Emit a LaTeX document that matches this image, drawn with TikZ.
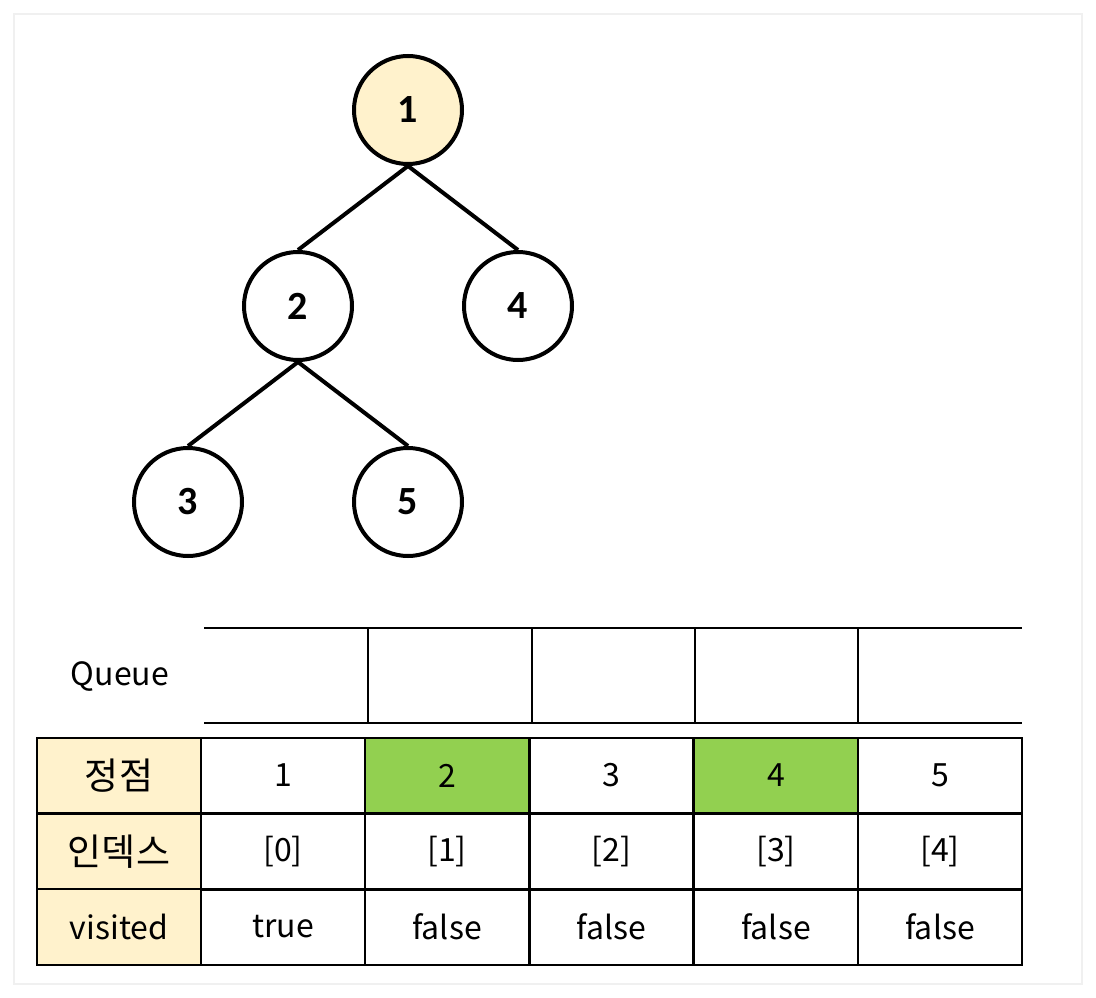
\documentclass[tikz,border=0pt]{standalone}
\usepackage{fontspec}
\setmainfont{Noto Sans CJK KR}
\newfontfamily\numfont{Carlito}
\usepackage{tikz}
\usetikzlibrary{positioning}

\definecolor{softyellow}{HTML}{FFF2CC}
\definecolor{visitgreen}{HTML}{92D050}

\tikzset{
  vertex/.style={circle,draw=black,line width=4pt,minimum size=108pt,inner sep=0pt,
    font=\numfont\bfseries\fontsize{40}{46}\selectfont},
  edge/.style={line width=4pt},
  cell/.style={draw=black,line width=2.4pt,minimum width=164pt,minimum height=75.6pt,
    inner sep=0pt,font=\fontsize{32}{38}\selectfont},
  head/.style={cell,fill=softyellow},
  seen/.style={cell,fill=visitgreen},
  hangul/.style={font=\fontsize{37}{42}\selectfont}
}

\begin{document}
\begin{tikzpicture}[x=1pt,y=-1pt]
\useasboundingbox (0,0) rectangle (1096,998);
\fill[white] (0,0) rectangle (1096,998);
\draw[black!6,line width=4pt] (15,15) rectangle (1081,983);
\fill[white] (15,15) rectangle (1081,983);

% tree
\node[vertex,fill=softyellow] (v1) at (408,110) {1};
\node[vertex] (v2) at (298,306) {2};
\node[vertex] (v4) at (518,306) {4};
\node[vertex] (v3) at (188,502) {3};
\node[vertex] (v5) at (408,502) {5};

\draw[edge] (v1.south) -- (v2.north);
\draw[edge] (v1.south) -- (v4.north);
\draw[edge] (v2.south) -- (v3.north);
\draw[edge] (v2.south) -- (v5.north);

% queue
\coordinate (qa) at (204,628);
\coordinate (qb) at (1022,628);
\coordinate (qc) at (204,723);
\coordinate (qd) at (1022,723);
\node[font=\fontsize{32}{38}\selectfont] (queue) at (120,677) {Queue};
\draw[line width=2pt] (qa) -- (qb);
\draw[line width=2pt] (qc) -- (qd);
\draw[line width=2pt] (368,628) -- (368,723);
\draw[line width=2pt] (532,628) -- (532,723);
\draw[line width=2pt] (695,628) -- (695,723);
\draw[line width=2pt] (858,628) -- (858,723);

% table
\node[head,hangul] (h1) at (119,775.5) {정점};
\node[head,hangul] (h2) at (119,851.5) {인덱스};
\node[head] (h3) at (119,927) {visited};

\node[cell] (a1) at (283,775.5) {1};
\node[seen] (a2) at (447,775.5) {2};
\node[cell] (a3) at (611.5,775.5) {3};
\node[seen] (a4) at (776,775.5) {4};
\node[cell] (a5) at (940,775.5) {5};

\node[cell] (b1) at (283,851.5) {[0]};
\node[cell] (b2) at (447,851.5) {[1]};
\node[cell] (b3) at (611.5,851.5) {[2]};
\node[cell] (b4) at (776,851.5) {[3]};
\node[cell] (b5) at (940,851.5) {[4]};

\node[cell] (c1) at (283,927) {true};
\node[cell] (c2) at (447,927) {false};
\node[cell] (c3) at (611.5,927) {false};
\node[cell] (c4) at (776,927) {false};
\node[cell] (c5) at (940,927) {false};
\end{tikzpicture}
\end{document}
